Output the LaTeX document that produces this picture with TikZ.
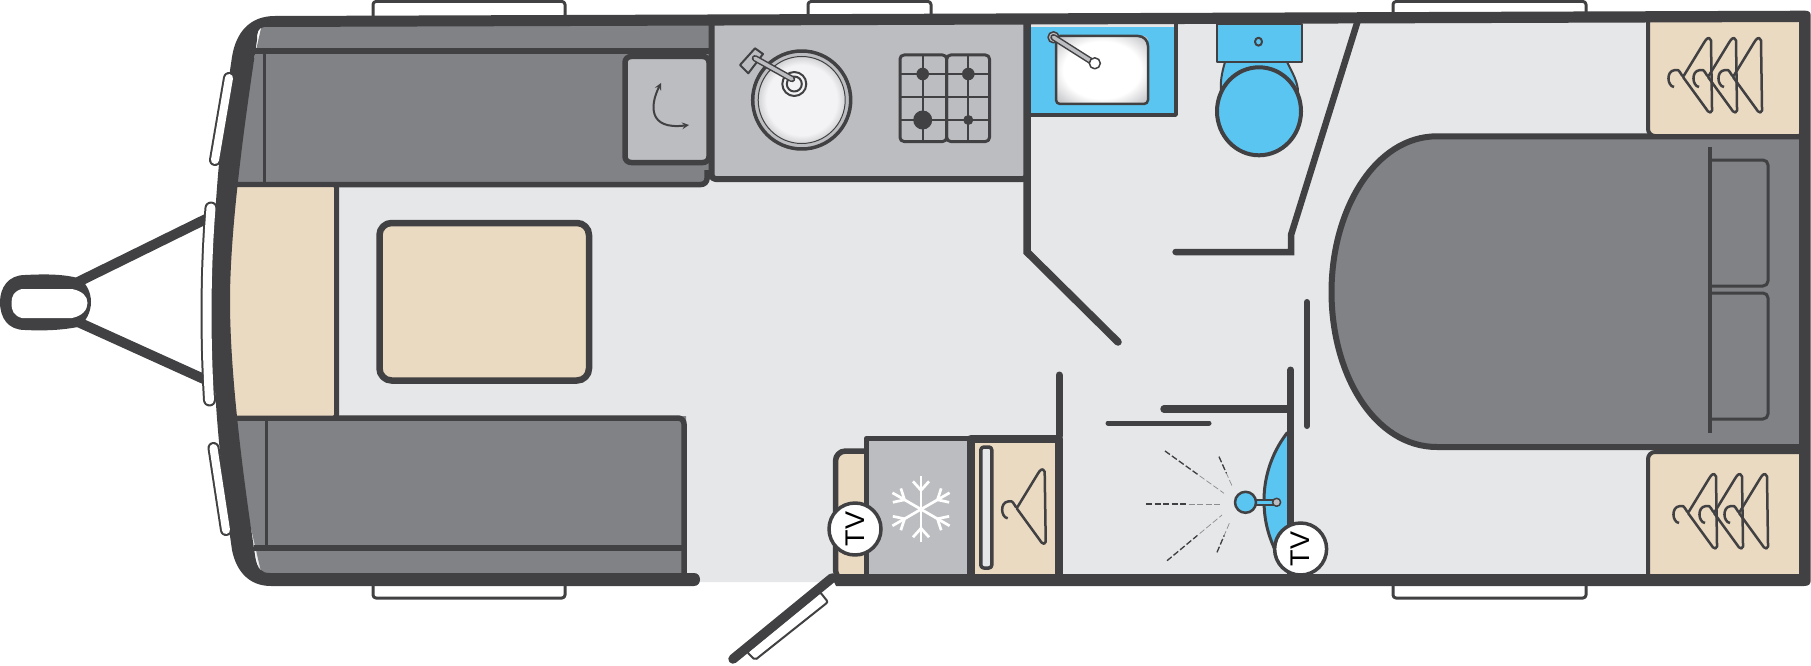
\documentclass[tikz,border=0pt]{standalone}
\usepackage{fontspec}
\setmainfont{Liberation Sans}
\usepackage{xcolor}
\usepackage{tikz}
\usetikzlibrary{
    calc,
    arrows
}
\definecolor{wallgrey}{HTML}{414042}
\definecolor{seatgrey}{HTML}{808285}
\definecolor{topgrey}{HTML}{BCBDC0}
\definecolor{floorgrey}{HTML}{E6E7E8}
\definecolor{woodtan}{HTML}{EADAC1}
\definecolor{waterblue}{HTML}{5BC5F2}
\definecolor{bowlwhite}{HTML}{F3F3F5}
\pgfdeclareradialshading{roundbowl}{\pgfpointorigin}{color(0bp)=(bowlwhite); color(20bp)=(bowlwhite); color(25bp)=(topgrey!70)}
\pgfdeclareradialshading{squarebowl}{\pgfpointorigin}{color(0bp)=(white); color(21bp)=(white); color(35bp)=(topgrey)}
\tikzset{
    % every length in this picture is one pixel of the plan
    plan/.style={x=1pt, y=-1pt, line join=round},
    outline/.style={draw=wallgrey, line width=#1},
    outline/.default=5.5pt,
    roundline/.style={outline=#1, line cap=round},
    sidewindow/.style={outline=3pt, fill=white, rounded corners=3pt},
    frontwindow/.style={draw=wallgrey, double=white, double distance=#1, line width=2pt, line cap=round},
    taparm/.style={draw=wallgrey, double=topgrey, double distance=3.5pt, line width=1.5pt, line cap=round},
    gridline/.style={outline=2pt},
    hangerline/.style={outline=2.5pt, rounded corners=1.5pt},
    flakeline/.style={draw=white, line width=2.7pt},
    sprayfar/.style={draw=wallgrey, line width=1.3pt, dash pattern=on 6pt off 2.5pt},
    spraynear/.style={draw=wallgrey!60, line width=0.7pt, dash pattern=on 6pt off 2.5pt},
    tvmark/.style={circle, draw=wallgrey, fill=white, line width=3.5pt, minimum size=52pt, inner sep=0pt,
        rotate=90, font=\fontsize{27}{27}\selectfont},
    % coat hanger, origin where the hook meets the arms
    hanger/.pic={
        \draw[hangerline] (-9,10) .. controls (-16,9) and (-17,-6) .. (-7,-7)
            .. controls (-4,-7) and (-2,-3) .. (0,0)
            -- (22,-36) .. controls (25,-40) and (28,-39) .. (28,-35)
            -- (29,32) .. controls (29,36) and (26,36) .. (24,33) -- (0,0);
    }
}
\begin{document}
\begin{tikzpicture}[plan]
    \useasboundingbox (0,0) rectangle (1811,666);

    % floor and the windows that sit behind the shell
    \fill[floorgrey] (262,24) -- (1805,20) -- (1805,582) -- (262,582) -- (225,416) -- (225,187) -- cycle;
    \foreach \xa/\ya/\xb/\yb in {373/1.5/565/19, 808/1.5/931/19, 1393/1.5/1586/19, 373/580/565/598, 1393/580/1586/598} {
        \draw[sidewindow] (\xa,\ya) rectangle (\xb,\yb);
    }

    % front seating
    \fill[seatgrey] (262,24) -- (712,24) -- (712,175) -- (707,184) -- (225,187) -- cycle;
    \draw[outline] (255,51) -- (712,51);
    \draw[outline=3pt] (264.5,54) -- (264.5,182);
    \draw[outline, rounded corners=6pt] (232,184.5) -- (707,184.5) -- (707,170);
    \draw[outline, fill=topgrey, rounded corners=6pt] (625,56.5) rectangle (709,162.5);
    \draw[outline=2pt, <->, >=stealth] (661,83) .. controls (650,105) and (648,130) .. (689,125);

    \fill[seatgrey] (225,416) -- (686,416) -- (686,576) -- (262,576) -- cycle;
    \draw[outline, rounded corners=6pt] (230,418) -- (684,418) -- (684,576);
    \draw[outline] (254,548) -- (684,548);
    \draw[outline=3pt] (266,420) -- (266,546);

    \draw[outline=5pt, fill=woodtan, rounded corners=3pt] (228,184.5) -- (336.5,184.5) -- (336.5,418) -- (228,418);
    \draw[outline=6.5pt, fill=woodtan, rounded corners=12pt] (379.5,223) rectangle (589,380.5);

    % kitchen worktop
    \draw[outline=6pt, fill=topgrey, rounded corners=4pt] (711.5,20) rectangle (1027,179);
    \shade[shading=roundbowl] (801.7,100) circle[radius=44];
    \draw[outline=3.5pt] (801.7,100) circle[radius=49];
    \draw[outline=1pt] (801.7,100) circle[radius=43.5];
    \draw[outline=2pt, fill=bowlwhite] (794.3,84) circle[radius=12];
    \draw[outline=2pt] (794.3,84) circle[radius=7.5];
    \draw[outline=2pt, fill=topgrey] (755,48.3) -- (763,54) -- (748.3,73.3) -- (740,65) -- cycle;
    \draw[taparm] (755,58.3) -- (792,79);

    \draw[outline=3pt, rounded corners=4pt] (900,55) rectangle (946.7,141.5);
    \draw[outline=3pt, rounded corners=4pt] (946.7,55) rectangle (989.5,141.5);
    \foreach \y in {74, 97.3, 120} {
        \draw[gridline] (900,\y) -- (989.5,\y);
    }
    \foreach \x/\ra/\rb in {922.7/6.3/9.5, 968.3/6.3/5} {
        \draw[gridline] (\x,55) -- (\x,141.5);
        \fill[wallgrey] (\x,74) circle[radius=\ra];
        \fill[wallgrey] (\x,120) circle[radius=\rb];
    }

    % washroom
    \fill[waterblue] (1031,26.7) rectangle (1176,115);
    \draw[outline=3.5pt] (1176,24) -- (1176,115) -- (1031,115);
    \shade[shading=squarebowl, rounded corners=4pt] (1056,36) rectangle (1148,104);
    \draw[outline=2.5pt, rounded corners=4pt] (1056,36) [rounded corners=10pt] -- (1148,36) [rounded corners=4pt] -- (1148,104) -- (1056,104) -- cycle;
    \draw[outline=1.5pt, fill=topgrey] (1053.5,37.3) circle[radius=5.5];
    \draw[taparm] (1053.5,37.3) -- (1094,63);
    \draw[outline=1.5pt, fill=white] (1094.8,63.3) circle[radius=5.5];

    \draw[outline=2pt, fill=waterblue] (1225,62) .. controls (1222,72) and (1220,82) .. (1221,92) -- (1298,92) .. controls (1298,82) and (1292,72) .. (1287,62) -- cycle;
    \draw[outline=2.5pt, fill=waterblue] (1217,24) rectangle (1302,62);
    \draw[outline=2pt] (1258.5,41.7) ellipse[x radius=3.5, y radius=4];
    \draw[outline=4pt, fill=waterblue] (1259,111.3) ellipse[x radius=42, y radius=44];

    \draw[roundline=7.5pt, line join=miter] (1027,20) -- (1027,252) -- (1118,342);
    \draw[roundline=6.5pt, line join=miter] (1358,20) -- (1291,235) -- (1291,252) -- (1175.6,252);
    \draw[roundline=6pt] (1307,302) -- (1307,426);

    % fixed bed and pillows
    \draw[outline=6pt, fill=seatgrey] (1802,136.3) -- (1437,136.3) .. controls (1375,136.3) and (1331.5,210) .. (1331.5,292)
        .. controls (1331.5,375) and (1375,447) .. (1437,447) -- (1802,447);
    \draw[outline=3pt, rounded corners=5pt] (1710,160) -- (1768,160) -- (1768,286) -- (1710,286);
    \draw[outline=3pt, rounded corners=5pt] (1710,293) -- (1768,293) -- (1768,419) -- (1710,419);
    \draw[outline=4pt] (1710,147) -- (1710,433);

    % wardrobes by the bed
    \draw[outline=4pt, fill=woodtan, rounded corners=7pt] (1648,16) rectangle (1805,136);
    \draw[outline=4pt, fill=woodtan, rounded corners=7pt] (1648,452) rectangle (1805,580);
    \foreach \x in {1733, 1708, 1683} {
        \pic at (\x,77) {hanger};
    }
    \foreach \x in {1739, 1714, 1688} {
        \pic at (\x,513) {hanger};
    }

    % fridge, cupboard and TV unit
    \draw[outline=5.5pt, fill=woodtan, rounded corners=10pt] (866,451) -- (835.5,451) -- (835.5,580) -- (866,580);
    \draw[outline=5.5pt, fill=topgrey] (866.5,438.5) rectangle (971,580);
    \begin{scope}[shift={(921,509.3)}]
        \foreach \a in {30, 90, ..., 330} {
            \draw[flakeline] (0,0) -- (\a:33);
            \draw[flakeline] (\a:19) -- +(\a+42:12);
            \draw[flakeline] (\a:19) -- +(\a-42:12);
        }
    \end{scope}
    \draw[outline=8pt, fill=woodtan] (971,438.5) rectangle (1059,580);
    \draw[outline=3.5pt, fill=floorgrey, rounded corners=3pt] (980.8,447) rectangle (991.8,568);
    \pic at (1016.7,508.3) {hanger};
    \draw[roundline=7pt] (1059,375) -- (1059,436);

    % shower
    \draw[outline=3pt, fill=waterblue] (1287,433) .. controls (1270,455) and (1264,480) .. (1264,500)
        .. controls (1264,520) and (1268,535) .. (1276,552) -- (1290,552) -- (1290,433) -- cycle;
    \draw[roundline=7pt] (1290.7,370) -- (1290.7,576);
    \draw[roundline=7.5pt] (1164,409) -- (1290,409);
    \draw[roundline=5pt] (1108,423) -- (1209,423);
    \foreach \xa/\ya/\xb/\yb in {1165/451/1224/493.3, 1219/456.7/1232.4/486.7, 1146/504/1222/504, 1167/560.7/1222/515, 1217/552.3/1230/521.7} {
        \draw[spraynear] (\xa,\ya) -- (\xb,\yb);
        \draw[sprayfar] (\xa,\ya) -- ($(\xa,\ya)!0.55!(\xb,\yb)$);
    }
    \draw[outline=1.5pt, double=waterblue, double distance=3.5pt] (1252,502.3) -- (1277,502.3);
    \draw[outline=1.5pt, fill=topgrey] (1276.6,502.3) circle[radius=4];
    \draw[outline=2.5pt, fill=waterblue] (1245.5,502.3) circle[radius=10.5];

    % tow hitch
    \coordinate (hitchtop) at (78,282);
    \coordinate (hitchbottom) at (78,322);
    \coordinate (frametop) at (206,219);
    \coordinate (framebottom) at (206,380);
    \draw[outline=10pt] (hitchtop) -- (frametop);
    \draw[outline=10pt] (hitchbottom) -- (framebottom);
    \fill[wallgrey] (25,275) .. controls (8,275) and (0,288) .. (0,302) .. controls (0,318) and (8,330) .. (25,330)
        .. controls (45,331) and (62,330) .. (78,327) .. controls (86,322) and (91,312) .. (91,302)
        .. controls (91,292) and (86,282) .. (78,278) .. controls (62,274) and (45,274) .. (25,275) -- cycle;
    \fill[white] (22,289) .. controls (14,291) and (11.5,296) .. (11.5,303) .. controls (11.5,311) and (14,316) .. (22,318)
        -- (72,318) .. controls (82,316) and (87.5,310) .. (87.5,303) .. controls (87.5,296) and (82,291) .. (72,289) -- cycle;

    % shell
    \fill[wallgrey] (836,586) -- (1804,586) .. controls (1809,586) and (1810.7,584) .. (1810.7,580) -- (1810.7,16)
        .. controls (1810.7,12) and (1809,10.7) .. (1805,10.7) -- (275,16)
        .. controls (250,16) and (236,32) .. (232,57) .. controls (224,110) and (212.5,200) .. (212.5,301)
        .. controls (212.5,400) and (222,480) .. (232,550) .. controls (236,570) and (248,586) .. (271,586)
        -- (694,586) .. controls (702,586) and (702,573) .. (694,573) -- (270,573)
        .. controls (262,573) and (257,570) .. (255,555) .. controls (245,490) and (230,380) .. (230,301)
        .. controls (230,220) and (248,100) .. (257,40) .. controls (257,32) and (258,28) .. (264,27)
        -- (1799,22) -- (1799,574) -- (830,574) -- cycle;

    % front windows, drawn over the shell
    \draw[frontwindow=8pt] (229,78) -- (215,160);
    \draw[frontwindow=9pt] (211,208) .. controls (206,270) and (206,340) .. (209.5,400);
    \draw[frontwindow=8pt] (213.5,448) -- (226,530);

    % door
    \draw[outline=2pt, fill=white, rounded corners=2pt] (820,592) -- (828,602) -- (755,660) -- (747,652) -- cycle;
    \draw[roundline=9.5pt] (832,578) -- (733,659);

    \node[tvmark] (tvfridge) at (855,529) {TV};
    \node[tvmark] (tvbed) at (1300.6,549) {TV};
\end{tikzpicture}
\end{document}
